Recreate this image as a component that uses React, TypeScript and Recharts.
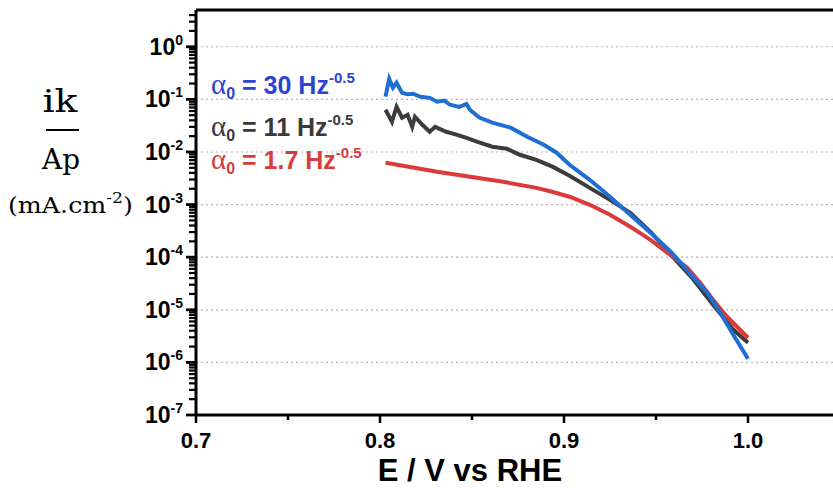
import React from 'react';
import { LineChart, Line, XAxis, YAxis, ReferenceLine } from 'recharts';

// ---- data ----
const blueE = [0.803, 0.805, 0.807, 0.809, 0.812, 0.815, 0.818, 0.822, 0.827, 0.831, 0.835, 0.838, 0.843, 0.847, 0.849, 0.854, 0.861, 0.871, 0.880, 0.889, 0.896, 0.903, 0.914, 0.925, 0.936, 0.947, 0.958, 0.963, 0.970, 0.978, 0.985, 0.992, 1.000];
const blueI = [0.113, 0.246, 0.166, 0.207, 0.133, 0.125, 0.128, 0.112, 0.107, 0.090, 0.095, 0.079, 0.072, 0.082, 0.063, 0.045, 0.036, 0.029, 0.0195, 0.0137, 0.0097, 0.0057, 0.00296, 0.00141, 6.4e-4, 2.9e-4, 1.27e-4, 8.2e-5, 4.2e-5, 2.1e-5, 8.8e-6, 3.35e-6, 1.17e-6];

const grayE = [0.803, 0.8065, 0.809, 0.812, 0.815, 0.8175, 0.819, 0.823, 0.827, 0.830, 0.836, 0.842, 0.847, 0.853, 0.861, 0.869, 0.876, 0.885, 0.894, 0.903, 0.914, 0.925, 0.936, 0.947, 0.959, 0.970, 0.981, 0.992, 1.000];
const grayI = [0.0634, 0.0375, 0.0723, 0.0447, 0.051, 0.0301, 0.0467, 0.0329, 0.0242, 0.0301, 0.0242, 0.0212, 0.0186, 0.0156, 0.0126, 0.0115, 0.00885, 0.0071, 0.0052, 0.00353, 0.00208, 0.00123, 7.0e-4, 3.04e-4, 1.02e-4, 3.9e-5, 1.25e-5, 4.2e-6, 2.36e-6];

const redE = [0.803, 0.8125, 0.831, 0.849, 0.867, 0.885, 0.8935, 0.903, 0.914, 0.925, 0.936, 0.947, 0.959, 0.967, 0.974, 0.981, 0.9886, 1.000];
const redI = [0.00623, 0.00547, 0.0042, 0.00338, 0.00271, 0.00208, 0.00175, 0.00141, 9.9e-4, 6.4e-4, 3.8e-4, 2.14e-4, 1.02e-4, 6.3e-5, 3.26e-5, 1.55e-5, 7.4e-6, 2.94e-6];

const seriesLabels = ['30', '11', '1.7'];

const xMajorTicks = [0.7, 0.8, 0.9, 1.0];
const xMinorTicks = [0.75, 0.85, 0.95, 1.05];
const yMajorTicks = [1e-7, 1e-6, 1e-5, 1e-4, 1e-3, 1e-2, 1e-1, 1];
const yMajorExp = ['-7', '-6', '-5', '-4', '-3', '-2', '-1', '0'];
const yMinorMult = [2, 3, 4, 5, 6, 7, 8, 9];
const gridDecades = [1e-6, 1e-5, 1e-4, 1e-3, 1e-2, 1e-1, 1];
const xDomain = [0.7, 1.05];
const yDomain = [1e-7, 5];

const BLUE = '#1f6fd3';
const GRAY = '#3c3c3c';
const RED = '#dc3a3a';
const BLUE_TXT = '#2c44d2';
const GRAY_TXT = '#3a3a3a';
const RED_TXT = '#d83c3c';

const toData = (es: number[], is: number[]) => es.map((e, k) => ({ E: e, i: is[k] }));
const blueData = toData(blueE, blueI);
const grayData = toData(grayE, grayI);
const redData = toData(redE, redI);

const yMinorTicks: number[] = [];
yMajorTicks.forEach((t) => {
  yMinorMult.forEach((m) => {
    const v = Number((t * m).toPrecision(6));
    if (v < yDomain[1]) yMinorTicks.push(v);
  });
});
const yTicks = [...yMajorTicks, ...yMinorTicks].sort((a, b) => a - b);
const xTicks = [...xMajorTicks, ...xMinorTicks].sort((a, b) => a - b);

const SANS = '"Liberation Sans", Arial, sans-serif';
const SERIF = '"DejaVu Serif", serif';

const YTick = (props: any) => {
  const { x, y, payload } = props;
  const v = Number(payload.value);
  const idx = yMajorTicks.findIndex((t) => Math.abs(Math.log10(t) - Math.log10(v)) < 1e-6);
  const major = idx >= 0;
  return (
    <g>
      <rect x={x - (major ? 10 : 7)} y={y - (major ? 1.4 : 1.1)} width={major ? 11 : 8} height={major ? 2.8 : 2.2} fill="#000" />
      {major && (
        <text x={x - 13} y={y + 8} textAnchor="end" fontFamily={SANS} fontWeight="bold" fontSize={23} fill="#000">
          10<tspan dy={-10} fontSize={14}>{yMajorExp[idx]}</tspan>
        </text>
      )}
    </g>
  );
};

const XTick = (props: any) => {
  const { x, y, payload } = props;
  const v = payload.value;
  const major = xMajorTicks.some((t) => Math.abs(t - v) < 1e-9);
  return (
    <g>
      <line x1={x} x2={x} y1={y} y2={y + (major ? 8 : 5)} stroke="#000" strokeWidth={2.5} />
      {major && (
        <text x={x} y={y + 33} textAnchor="middle" fontFamily={SANS} fontWeight="bold" fontSize={22} fill="#000">
          {v.toFixed(1)}
        </text>
      )}
    </g>
  );
};

const LegendLine = ({ x, y, color, label }: { x: number; y: number; color: string; label: string }) => (
  <text x={x} y={y} fontFamily={SANS} fontWeight="bold" fontSize={25} fill={color}>
    <tspan fontFamily='"Liberation Serif", serif' fontWeight="normal" fontSize={29}>α</tspan>
    <tspan fontSize={16} dy={5}>0</tspan>
    <tspan dy={-5}>{' = ' + label + ' Hz'}</tspan>
    <tspan fontSize={15} dy={-11}>-0.5</tspan>
  </text>
);

export default function App() {
  return (
    <div style={{ position: 'absolute', left: 0, top: 0, width: 833, height: 488, overflow: 'hidden', background: '#fff' }}>
      <LineChart width={900} height={488} margin={{ top: 10, right: 60, bottom: 0, left: 0 }}>
        <XAxis
          dataKey="E"
          type="number"
          domain={xDomain}
          allowDataOverflow
          ticks={xTicks}
          interval={0}
          tick={<XTick />}
          tickSize={0}
          tickMargin={0}
          tickLine={false}
          axisLine={{ stroke: '#000', strokeWidth: 3 }}
          height={73}
        />
        <YAxis
          dataKey="i"
          type="number"
          scale="log"
          domain={yDomain}
          allowDataOverflow
          ticks={yTicks}
          interval={0}
          minTickGap={0}
          tick={<YTick />}
          tickSize={0}
          tickMargin={0}
          tickLine={false}
          axisLine={{ stroke: '#000', strokeWidth: 3 }}
          width={196}
        />
        {gridDecades.map((d) => (
          <ReferenceLine key={d} y={d} stroke="#b4b4b4" strokeWidth={1.2} strokeDasharray="2 3" />
        ))}
        <ReferenceLine y={yDomain[1]} stroke="#000" strokeWidth={3} />
        <Line data={grayData} dataKey="i" stroke={GRAY} strokeWidth={4} dot={false} isAnimationActive={false} />
        <Line data={redData} dataKey="i" stroke={RED} strokeWidth={4} dot={false} isAnimationActive={false} />
        <Line data={blueData} dataKey="i" stroke={BLUE} strokeWidth={4} dot={false} isAnimationActive={false} />
      </LineChart>
      <svg width={833} height={488} style={{ position: 'absolute', left: 0, top: 0, pointerEvents: 'none' }}>
        <text x={60} y={112} textAnchor="middle" fontFamily={SERIF} fontSize={31} textLength={35} lengthAdjust="spacingAndGlyphs" fill="#000">ik</text>
        <line x1={46} x2={79} y1={130} y2={130} stroke="#000" strokeWidth={2} />
        <text x={61} y={169} textAnchor="middle" fontFamily={SERIF} fontSize={27} textLength={38} lengthAdjust="spacingAndGlyphs" fill="#000">Ap</text>
        <text x={8} y={213} fontFamily={SERIF} fontSize={22} textLength={125} lengthAdjust="spacingAndGlyphs" fill="#000">
          (mA.cm<tspan dy={-10} fontSize={15}>-2</tspan><tspan dy={10}>)</tspan>
        </text>
        <text x={470} y={481} textAnchor="middle" fontFamily={SANS} fontWeight="bold" fontSize={31} fill="#000">E / V vs RHE</text>
        <LegendLine x={211} y={94} color={BLUE_TXT} label={seriesLabels[0]} />
        <LegendLine x={211} y={136} color={GRAY_TXT} label={seriesLabels[1]} />
        <LegendLine x={211} y={169} color={RED_TXT} label={seriesLabels[2]} />
      </svg>
    </div>
  );
}
